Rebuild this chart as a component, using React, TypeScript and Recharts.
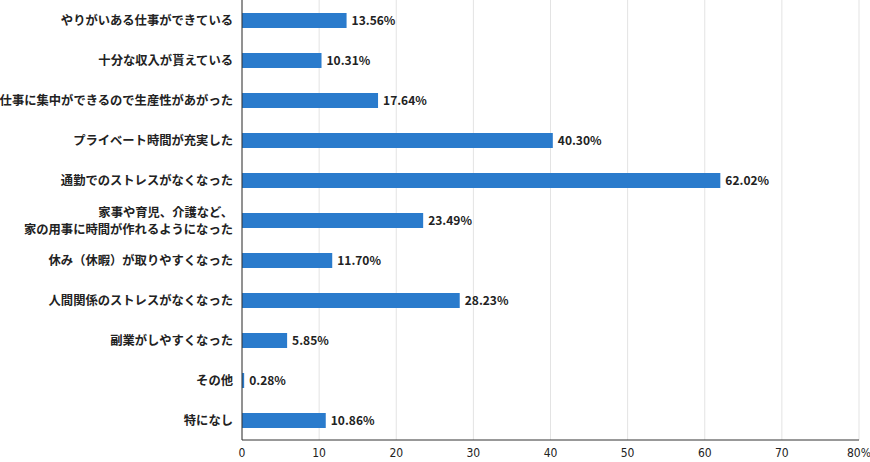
import React from "react";
import { BarChart, Bar, XAxis, YAxis, CartesianGrid, LabelList } from "recharts";

const categories = [
  "やりがいある仕事ができている",
  "十分な収入が貰えている",
  "仕事に集中ができるので生産性があがった",
  "プライベート時間が充実した",
  "通勤でのストレスがなくなった",
  "家事や育児、介護など、\n家の用事に時間が作れるようになった",
  "休み（休暇）が取りやすくなった",
  "人間関係のストレスがなくなった",
  "副業がしやすくなった",
  "その他",
  "特になし",
];
const values = [13.56, 10.31, 17.64, 40.3, 62.02, 23.49, 11.7, 28.23, 5.85, 0.28, 10.86];
const xTicks = [0, 10, 20, 30, 40, 50, 60, 70, 80];

const data = categories.map((c, i) => ({ name: c, value: values[i] }));

const FONT = '"Noto Sans CJK JP", "Noto Sans", sans-serif';

const CatTick = (props: any) => {
  const { x, y, payload } = props;
  const lines = String(payload.value).split("\n");
  const lh = 17;
  const start = -((lines.length - 1) * lh) / 2;
  return (
    <text x={x - 1} y={y} textAnchor="end" fill="#222" fontSize={12.3} fontWeight={700} fontFamily={FONT} dominantBaseline="central">
      {lines.map((l, i) => (
        <tspan key={i} x={x - 1} dy={i === 0 ? start : lh}>
          {l}
        </tspan>
      ))}
    </text>
  );
};

export default function App() {
  return (
    <div style={{ position: "absolute", left: 0, top: 0, width: 870, height: 462, background: "#fff" }}>
      <BarChart
        width={870}
        height={462}
        data={data}
        layout="vertical"
        margin={{ top: 0, right: 11, left: 0, bottom: 0 }}
        barCategoryGap={0}
      >
        <CartesianGrid horizontal={false} stroke="#e3e3e3" strokeWidth={1} />
        <XAxis
          type="number"
          domain={[0, 80]}
          ticks={xTicks}
          interval={0}
          height={22}
          tickLine={false}
          axisLine={{ stroke: "#333", strokeWidth: 1 }}
          tick={{ fill: "#222", fontSize: 12, fontFamily: '"Liberation Sans Narrow", "DejaVu Sans Condensed", sans-serif' }}
          tickFormatter={(v: number) => (v === 80 ? "80%" : String(v))}
        />
        <YAxis
          type="category"
          dataKey="name"
          width={242}
          tickLine={false}
          axisLine={{ stroke: "#333", strokeWidth: 1 }}
          tick={<CatTick />}
          interval={0}
        />
        <Bar dataKey="value" fill="#2a7bcc" barSize={15} isAnimationActive={false}>
          <LabelList
            dataKey="value"
            position="right"
            offset={5}
            formatter={(v: number) => `${v.toFixed(2)}%`}
            style={{ fill: "#222", fontSize: 12, fontWeight: 700, fontFamily: FONT }}
          />
        </Bar>
      </BarChart>
    </div>
  );
}
